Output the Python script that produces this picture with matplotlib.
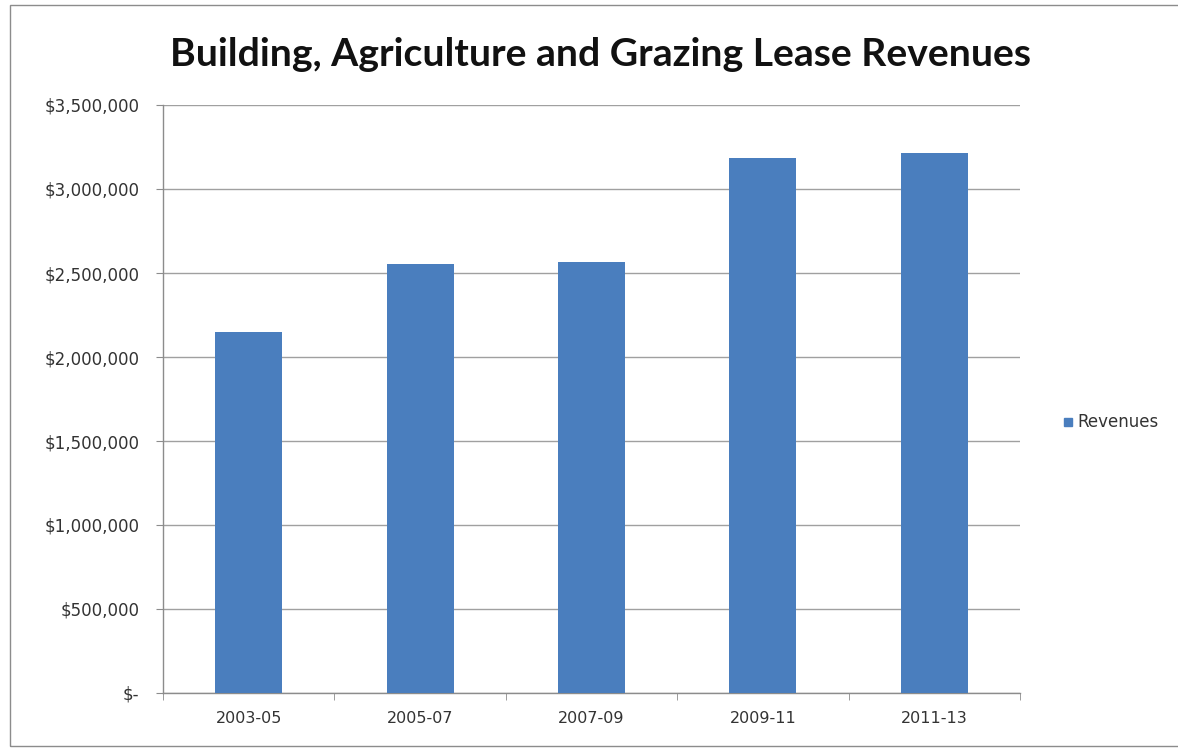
import matplotlib
matplotlib.use("Agg")
import matplotlib.pyplot as plt
from matplotlib.ticker import FuncFormatter, FixedLocator
from matplotlib.patches import Rectangle

categories = ["2003-05", "2005-07", "2007-09", "2009-11", "2011-13"]
revenues = [2150000, 2555000, 2565000, 3185000, 3212000]
yticks = [0, 500000, 1000000, 1500000, 2000000, 2500000, 3000000, 3500000]

plt.rcParams['font.family'] = ['DejaVu Sans']

fig = plt.figure(figsize=(11.78, 7.5), dpi=100)
ax = fig.add_axes([163/1178, 1-693/750, (1020-163)/1178, (693-105)/750])

x = list(range(len(categories)))
ax.bar(x, revenues, width=0.39, color="#4a7ebe", zorder=3, label="Revenues")

ax.set_xlim(-0.5, len(categories)-0.5)
ax.set_ylim(0, 3500000)
ax.set_yticks(yticks)

def fmt(v, pos):
    if v == 0:
        return "$-"
    return "${:,.0f}".format(v)
ax.yaxis.set_major_formatter(FuncFormatter(fmt))
ax.set_xticks(x)
ax.set_xticklabels(categories)
ax.xaxis.set_minor_locator(FixedLocator([i-0.5 for i in range(len(categories)+1)]))
ax.tick_params(axis='x', which='major', length=0, pad=13, labelsize=11.5, labelcolor="#333333")
ax.tick_params(axis='x', which='minor', length=5, color="#8c8c8c", direction='out')
ax.tick_params(axis='y', length=5, color="#8c8c8c", pad=12, labelsize=12, labelcolor="#333333")

ax.grid(axis='y', color="#a0a0a0", linewidth=1.0, zorder=0)
for s in ["top", "right"]:
    ax.spines[s].set_visible(False)
for s in ["left", "bottom"]:
    ax.spines[s].set_color("#8c8c8c")
    ax.spines[s].set_linewidth(1.0)

title = fig.text(600/1178, 1-55/750, "Building, Agriculture and Grazing Lease Revenues",
                 ha="center", va="center", fontsize=24, fontweight="bold", color="#111111",
                 family=["Lato", "DejaVu Sans"])
fig.canvas.draw()
w = title.get_window_extent().width
title.set_fontsize(24 * 860 / w)

# legend
fig.patches.append(Rectangle((1064/1178, 1-426/750), 8/1178, 8/750,
                             transform=fig.transFigure, color="#4a7ebe"))
fig.text(1077/1178, 1-422/750, "Revenues", ha="left", va="center",
         fontsize=12, color="#333333")

# outer chart border
fig.patches.append(Rectangle((10/1178, 4/750), 1180/1178, 741/750, transform=fig.transFigure,
                             fill=False, edgecolor="#8c8c8c", linewidth=1.0))

fig.savefig("out.png", dpi=100)
